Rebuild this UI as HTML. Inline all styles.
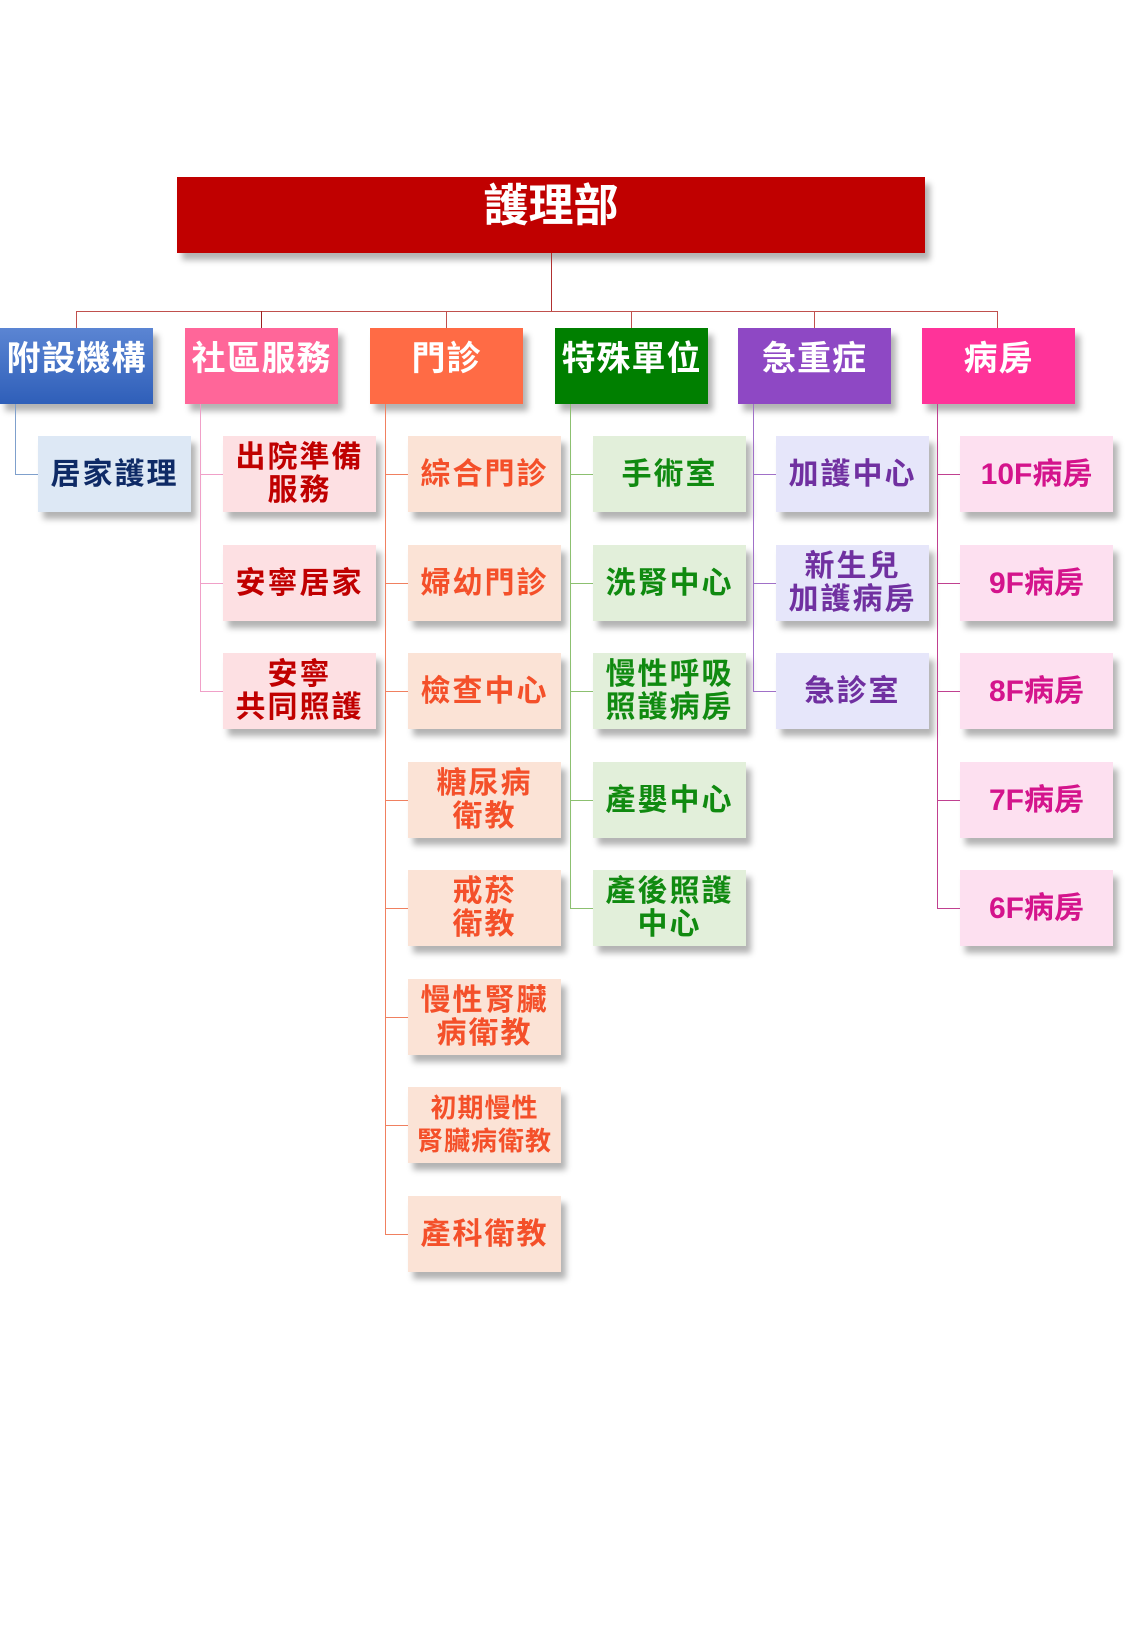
<!DOCTYPE html>
<html><head><meta charset="utf-8"><style>
body{margin:0;width:1125px;height:1625px;background:#fff;position:relative;overflow:hidden;font-family:"Liberation Sans","Noto Sans CJK TC",sans-serif;}
.b{position:absolute;display:flex;align-items:center;justify-content:center;text-align:center;font-weight:bold;box-shadow:5px 7px 6px rgba(0,0,0,.3);box-sizing:border-box;}
.t{left:177px;top:177px;width:748px;height:76px;background:#c00000;color:#fff;font-size:45px;line-height:50px;align-items:flex-start;padding-top:4px;}
.l1{top:328px;width:153px;height:76px;color:#fff;font-size:34px;line-height:40px;align-items:flex-start;padding-top:11px;letter-spacing:1px;}
.c{width:153px;height:76px;font-size:30px;line-height:33px;letter-spacing:2px;}
.ln{position:absolute;}
</style></head><body>
<div class="b t">護理部</div>
<div class="ln" style="left:551px;top:253px;width:1px;height:59px;background:#b03030"></div>
<div class="ln" style="left:76px;top:311px;width:922px;height:1px;background:#c0504d"></div>
<div class="ln" style="left:76px;top:311px;width:1px;height:17px;background:#c0504d"></div>
<div class="ln" style="left:261px;top:311px;width:1px;height:17px;background:#9c2020"></div>
<div class="ln" style="left:446px;top:311px;width:1px;height:17px;background:#c0504d"></div>
<div class="ln" style="left:631px;top:311px;width:1px;height:17px;background:#c0504d"></div>
<div class="ln" style="left:814px;top:311px;width:1px;height:17px;background:#c0504d"></div>
<div class="ln" style="left:997px;top:311px;width:1px;height:17px;background:#c0504d"></div>

<div class="b l1" style="left:0;background:linear-gradient(#5b85d3,#2f5fb9)">附設機構</div>
<div class="b l1" style="left:185px;background:#ff6699">社區服務</div>
<div class="b l1" style="left:370px;background:#ff6b45">門診</div>
<div class="b l1" style="left:555px;background:#007f00">特殊單位</div>
<div class="b l1" style="left:738px;background:#8e48c4">急重症</div>
<div class="b l1" style="left:922px;background:#ff3399">病房</div>

<div class="ln" style="left:15px;top:404px;width:1px;height:70px;background:#7fa0cc"></div>
<div class="ln" style="left:15px;top:474px;width:23px;height:1px;background:#7fa0cc"></div>
<div class="b c" style="left:38px;top:436px;background:#dde8f5;color:#0e2a66">居家護理</div>

<div class="ln" style="left:200px;top:404px;width:1px;height:287px;background:#f0a0c8"></div>
<div class="ln" style="left:200px;top:474px;width:23px;height:1px;background:#f0a0c8"></div>
<div class="ln" style="left:200px;top:583px;width:23px;height:1px;background:#f0a0c8"></div>
<div class="ln" style="left:200px;top:691px;width:23px;height:1px;background:#f0a0c8"></div>
<div class="b c" style="left:223px;top:436px;background:#fde0e3;color:#c00000">出院準備<br>服務</div>
<div class="b c" style="left:223px;top:545px;background:#fde0e3;color:#c00000">安寧居家</div>
<div class="b c" style="left:223px;top:653px;background:#fde0e3;color:#c00000">安寧<br>共同照護</div>

<div class="ln" style="left:385px;top:404px;width:1px;height:830px;background:#f08060"></div>
<div class="ln" style="left:385px;top:474px;width:23px;height:1px;background:#f08060"></div>
<div class="ln" style="left:385px;top:583px;width:23px;height:1px;background:#f08060"></div>
<div class="ln" style="left:385px;top:691px;width:23px;height:1px;background:#f08060"></div>
<div class="ln" style="left:385px;top:800px;width:23px;height:1px;background:#f08060"></div>
<div class="ln" style="left:385px;top:908px;width:23px;height:1px;background:#f08060"></div>
<div class="ln" style="left:385px;top:1017px;width:23px;height:1px;background:#f08060"></div>
<div class="ln" style="left:385px;top:1125px;width:23px;height:1px;background:#f08060"></div>
<div class="ln" style="left:385px;top:1234px;width:23px;height:1px;background:#f08060"></div>
<div class="b c" style="left:408px;top:436px;background:#fbe3d6;color:#f4502a">綜合門診</div>
<div class="b c" style="left:408px;top:545px;background:#fbe3d6;color:#f4502a">婦幼門診</div>
<div class="b c" style="left:408px;top:653px;background:#fbe3d6;color:#f4502a">檢查中心</div>
<div class="b c" style="left:408px;top:762px;background:#fbe3d6;color:#f4502a">糖尿病<br>衛教</div>
<div class="b c" style="left:408px;top:870px;background:#fbe3d6;color:#f4502a">戒菸<br>衛教</div>
<div class="b c" style="left:408px;top:979px;background:#fbe3d6;color:#f4502a">慢性腎臟<br>病衛教</div>
<div class="b c" style="left:408px;top:1087px;background:#fbe3d6;color:#f4502a;font-size:26px;letter-spacing:1px">初期慢性<br>腎臟病衛教</div>
<div class="b c" style="left:408px;top:1196px;background:#fbe3d6;color:#f4502a">產科衛教</div>

<div class="ln" style="left:570px;top:404px;width:1px;height:504px;background:#8cc070"></div>
<div class="ln" style="left:570px;top:474px;width:23px;height:1px;background:#8cc070"></div>
<div class="ln" style="left:570px;top:583px;width:23px;height:1px;background:#8cc070"></div>
<div class="ln" style="left:570px;top:691px;width:23px;height:1px;background:#8cc070"></div>
<div class="ln" style="left:570px;top:800px;width:23px;height:1px;background:#8cc070"></div>
<div class="ln" style="left:570px;top:908px;width:23px;height:1px;background:#8cc070"></div>
<div class="b c" style="left:593px;top:436px;background:#e2efda;color:#108a10">手術室</div>
<div class="b c" style="left:593px;top:545px;background:#e2efda;color:#108a10">洗腎中心</div>
<div class="b c" style="left:593px;top:653px;background:#e2efda;color:#108a10">慢性呼吸<br>照護病房</div>
<div class="b c" style="left:593px;top:762px;background:#e2efda;color:#108a10">產嬰中心</div>
<div class="b c" style="left:593px;top:870px;background:#e2efda;color:#108a10">產後照護<br>中心</div>

<div class="ln" style="left:753px;top:404px;width:1px;height:287px;background:#a070c8"></div>
<div class="ln" style="left:753px;top:474px;width:23px;height:1px;background:#a070c8"></div>
<div class="ln" style="left:753px;top:583px;width:23px;height:1px;background:#a070c8"></div>
<div class="ln" style="left:753px;top:691px;width:23px;height:1px;background:#a070c8"></div>
<div class="b c" style="left:776px;top:436px;background:#e6e6fa;color:#7030a0">加護中心</div>
<div class="b c" style="left:776px;top:545px;background:#e6e6fa;color:#7030a0">新生兒<br>加護病房</div>
<div class="b c" style="left:776px;top:653px;background:#e6e6fa;color:#7030a0">急診室</div>

<div class="ln" style="left:937px;top:404px;width:1px;height:504px;background:#c04090"></div>
<div class="ln" style="left:937px;top:474px;width:23px;height:1px;background:#c04090"></div>
<div class="ln" style="left:937px;top:583px;width:23px;height:1px;background:#c04090"></div>
<div class="ln" style="left:937px;top:691px;width:23px;height:1px;background:#c04090"></div>
<div class="ln" style="left:937px;top:800px;width:23px;height:1px;background:#c04090"></div>
<div class="ln" style="left:937px;top:908px;width:23px;height:1px;background:#c04090"></div>
<div class="b c" style="left:960px;top:436px;background:#fde0f0;color:#d4148c;letter-spacing:0">10F病房</div>
<div class="b c" style="left:960px;top:545px;background:#fde0f0;color:#d4148c;letter-spacing:0">9F病房</div>
<div class="b c" style="left:960px;top:653px;background:#fde0f0;color:#d4148c;letter-spacing:0">8F病房</div>
<div class="b c" style="left:960px;top:762px;background:#fde0f0;color:#d4148c;letter-spacing:0">7F病房</div>
<div class="b c" style="left:960px;top:870px;background:#fde0f0;color:#d4148c;letter-spacing:0">6F病房</div>
</body></html>
